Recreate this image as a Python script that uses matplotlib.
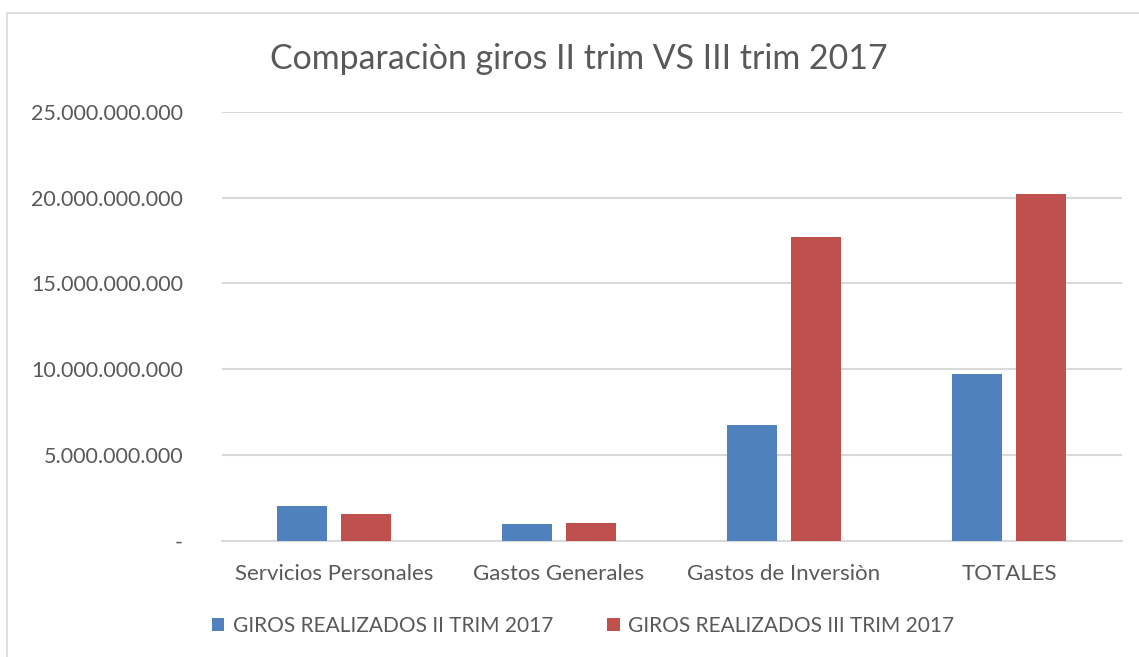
import matplotlib
matplotlib.use("Agg")
import matplotlib.pyplot as plt
import numpy as np
from matplotlib.patches import Rectangle

categories = ["Servicios Personales", "Gastos Generales", "Gastos de Inversiòn", "TOTALES"]
serie_ii = [2.01e9, 0.96e9, 6.74e9, 9.71e9]
serie_iii = [1.55e9, 1.02e9, 17.69e9, 20.23e9]
series_names = ["GIROS REALIZADOS II TRIM 2017", "GIROS REALIZADOS III TRIM 2017"]
yticks = [0, 5e9, 10e9, 15e9, 20e9, 25e9]
ytick_labels = ["-", "5.000.000.000", "10.000.000.000", "15.000.000.000", "20.000.000.000", "25.000.000.000"]
title = "Comparaciòn giros II trim VS III trim 2017"

plt.rcParams['font.family'] = ['Lato', 'DejaVu Sans']
W, H = 1139, 657
fig = plt.figure(figsize=(W/100, H/100), dpi=100)
fig.patch.set_facecolor("white")

# outer chart frame
fig.patches.append(Rectangle((7/W, -0.1), 1.2, 1 - 13/H + 0.1, transform=fig.transFigure,
                             fill=False, edgecolor="#d9d9d9", linewidth=1.2))

ax = fig.add_axes([221.5/W, 1-540.5/H, 900/W, (540.5-112)/H])
x = np.arange(len(categories))
bw = 0.222
off = 0.142
c1, c2 = "#4f81bd", "#c0504d"
ax.bar(x - off, serie_ii, width=bw, color=c1, label=series_names[0], zorder=3)
ax.bar(x + off, serie_iii, width=bw, color=c2, label=series_names[1], zorder=3)

ax.set_xlim(-0.5, len(categories) - 0.5)
ax.set_ylim(0, 25e9)
ax.set_yticks(yticks)
ax.set_yticklabels(ytick_labels)
ax.set_xticks(x)
ax.set_xticklabels(categories)
ax.tick_params(axis='both', length=0, colors="#595959")
ax.tick_params(axis='y', pad=27.7, labelsize=15.5)
ax.tick_params(axis='x', pad=17, labelsize=16)
for lab in ax.get_yticklabels():
    lab.set_horizontalalignment('right')
ax.grid(axis='y', color="#d9d9d9", linewidth=1.5, zorder=0)
for s in ["top", "right", "left"]:
    ax.spines[s].set_visible(False)
ax.spines["bottom"].set_color("#d9d9d9")
ax.spines["bottom"].set_linewidth(1.5)

fig.text(579/W, 1-59/H, title, ha="center", va="center", fontsize=24.4, color="#595959")

leg = fig.legend(loc="center", bbox_to_anchor=(583/W, 1-626/H), ncol=2, frameon=False,
                 fontsize=15, handlelength=0.6, handleheight=0.6, handletextpad=0.4,
                 columnspacing=2.6)
for t in leg.get_texts():
    t.set_color("#595959")

fig.savefig("out.png", dpi=100, facecolor="white")
